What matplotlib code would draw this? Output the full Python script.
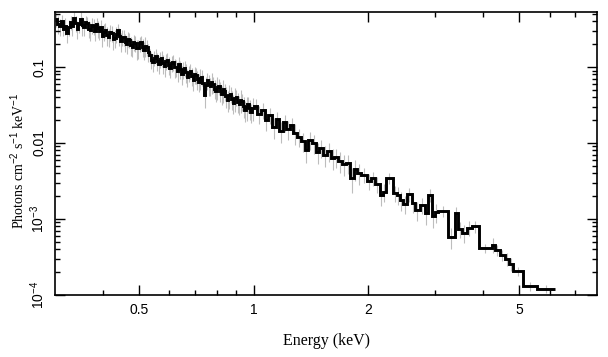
import matplotlib
matplotlib.use("Agg")
import matplotlib.pyplot as plt
import numpy as np
from matplotlib.ticker import FixedLocator, NullFormatter

# ---- data ----
energy_edges = [
    0.300, 0.3035, 0.307, 0.3105, 0.314, 0.3175, 0.321, 0.3245, 0.328, 0.3315,
    0.335, 0.3385, 0.342, 0.3455, 0.349, 0.3525, 0.356, 0.3595, 0.363, 0.3665,
    0.370, 0.3735, 0.377, 0.3805, 0.384, 0.3875, 0.391, 0.3945, 0.398, 0.4015,
    0.405, 0.409, 0.413, 0.417, 0.421, 0.425, 0.429, 0.433, 0.437, 0.441,
    0.445, 0.449, 0.453, 0.457, 0.461, 0.465, 0.469, 0.473, 0.477, 0.481,
    0.485, 0.4895, 0.494, 0.4985, 0.503, 0.5075, 0.512, 0.5165, 0.521, 0.5255,
    0.530, 0.535, 0.540, 0.545, 0.550, 0.555, 0.560, 0.565, 0.570, 0.575,
    0.580, 0.585, 0.590, 0.595, 0.600, 0.6055, 0.611, 0.6165, 0.622, 0.6275,
    0.633, 0.6385, 0.644, 0.6495, 0.655, 0.6605, 0.666, 0.672, 0.678, 0.684,
    0.690, 0.696, 0.702, 0.708, 0.714, 0.720, 0.726, 0.7325, 0.739, 0.7455,
    0.752, 0.7585, 0.765, 0.7715, 0.778, 0.785, 0.792, 0.799, 0.806, 0.813,
    0.820, 0.8275, 0.835, 0.8425, 0.850, 0.8575, 0.865, 0.8725, 0.880, 0.888,
    0.896, 0.904, 0.912, 0.920, 0.928, 0.9365, 0.945, 0.9535, 0.962, 0.971,
    0.980, 0.990, 1.000,
    1.022, 1.045, 1.068, 1.092, 1.116, 1.141, 1.166, 1.192, 1.218, 1.245,
    1.272, 1.300, 1.330, 1.360, 1.390, 1.422, 1.455, 1.488, 1.522, 1.557,
    1.593, 1.630, 1.668, 1.707, 1.747, 1.788, 1.830, 1.873, 1.917,
    1.981, 2.029, 2.079, 2.143, 2.183, 2.223, 2.319, 2.376, 2.419, 2.464,
    2.524, 2.602, 2.650, 2.732, 2.816, 2.868, 2.938, 2.992, 3.047, 3.237,
    3.378, 3.440, 3.524, 3.633, 3.745, 3.907,
    4.227, 4.305, 4.437, 4.574, 4.686, 4.801, 5.101, 5.554, 6.194,
]

photon_flux = [
    0.428, 0.372, 0.346, 0.398, 0.316, 0.352, 0.280, 0.335, 0.391, 0.342,
    0.441, 0.377, 0.316, 0.365, 0.428, 0.356, 0.336, 0.392, 0.379, 0.318,
    0.307, 0.358, 0.346, 0.301, 0.368, 0.322, 0.298, 0.341, 0.256, 0.293,
    0.307, 0.262, 0.248, 0.289, 0.280, 0.236, 0.241, 0.272, 0.307, 0.258,
    0.220, 0.251, 0.248, 0.213, 0.201, 0.236, 0.2265, 0.194, 0.1833, 0.212,
    0.207, 0.176, 0.178, 0.205, 0.213, 0.184, 0.1674, 0.192, 0.1833, 0.158,
    0.1438, 0.125, 0.1163, 0.132, 0.1395, 0.121, 0.1095, 0.127, 0.1314, 0.114,
    0.1031, 0.119, 0.1236, 0.106, 0.0970, 0.112, 0.1163, 0.101, 0.100, 0.089,
    0.1095, 0.094, 0.0809, 0.092, 0.0970, 0.085, 0.0739, 0.083, 0.0886, 0.077,
    0.0674, 0.080, 0.0785, 0.069, 0.0635, 0.072, 0.0739, 0.061, 0.0428, 0.058,
    0.0674, 0.060, 0.0562, 0.064, 0.0597, 0.052, 0.0483, 0.055, 0.0562, 0.049,
    0.0441, 0.051, 0.0483, 0.042, 0.0368, 0.043, 0.0441, 0.038, 0.0336, 0.039,
    0.0403, 0.035, 0.0326, 0.037, 0.0357, 0.031, 0.0272, 0.030, 0.0326, 0.0285,
    0.0256, 0.0292,
    0.0307, 0.0241, 0.0272, 0.0201, 0.0234, 0.01623, 0.0207, 0.01438, 0.0189, 0.01528,
    0.01725, 0.01354, 0.0120, 0.01062, 0.00809, 0.01095, 0.0100, 0.00762, 0.0086, 0.00695,
    0.00785, 0.00635, 0.00654, 0.0058, 0.0053, 0.00546, 0.00346, 0.00455, 0.00403,
    0.00379, 0.00316, 0.00346, 0.00289, 0.00207, 0.002266, 0.00346, 0.0022, 0.00207, 0.00178,
    0.001576, 0.00213, 0.001623, 0.001314, 0.001528, 0.0012, 0.00207, 0.001095, 0.001236, 0.001274,
    0.00058, 0.0012, 0.000739, 0.000654, 0.000761, 0.000809,
    0.000415, 0.000455, 0.000391, 0.000336, 0.000298, 0.000256, 0.000207, 0.000131, 0.00012,
]

flux_err_frac = [
    0.22, 0.26, 0.25, 0.21, 0.20, 0.24, 0.27, 0.23, 0.21, 0.25,
    0.19, 0.23, 0.26, 0.22, 0.22, 0.27, 0.24, 0.20, 0.20, 0.25,
    0.28, 0.23, 0.23, 0.27, 0.21, 0.25, 0.25, 0.22, 0.29, 0.24,
    0.22, 0.27, 0.26, 0.23, 0.24, 0.28, 0.27, 0.23, 0.21, 0.26,
    0.28, 0.24, 0.23, 0.27, 0.26, 0.22, 0.22, 0.27, 0.27, 0.24,
    0.24, 0.29, 0.28, 0.23, 0.22, 0.26, 0.26, 0.30, 0.23, 0.27,
    0.21, 0.25, 0.26, 0.22, 0.22, 0.27, 0.27, 0.24, 0.23, 0.28,
    0.28, 0.24, 0.22, 0.27, 0.26, 0.23, 0.24, 0.28, 0.25, 0.29,
    0.23, 0.27, 0.29, 0.25, 0.24, 0.28, 0.27, 0.23, 0.22, 0.27,
    0.28, 0.25, 0.23, 0.28, 0.27, 0.31, 0.24, 0.29, 0.33, 0.28,
    0.25, 0.30, 0.27, 0.32, 0.23, 0.28, 0.28, 0.33, 0.24, 0.30,
    0.29, 0.34, 0.25, 0.31, 0.30, 0.35, 0.23, 0.29, 0.29, 0.34,
    0.24, 0.30, 0.28, 0.33, 0.25, 0.31, 0.30, 0.35, 0.24, 0.30,
    0.29, 0.34,
    0.22, 0.27, 0.23, 0.28, 0.24, 0.30, 0.23, 0.31, 0.25, 0.28,
    0.24, 0.30, 0.27, 0.29, 0.33, 0.26, 0.28, 0.31, 0.27, 0.30,
    0.28, 0.31, 0.29, 0.30, 0.31, 0.29, 0.36, 0.30, 0.31,
    0.22, 0.24, 0.21, 0.25, 0.28, 0.26, 0.17, 0.25, 0.27, 0.28,
    0.26, 0.21, 0.27, 0.29, 0.24, 0.30, 0.20, 0.31, 0.28, 0.17,
    0.30, 0.20, 0.25, 0.27, 0.22, 0.18,
    0.14, 0.22, 0.16, 0.17, 0.20, 0.19, 0.14, 0.13, 0.12,
]

x_tick_values = [0.5, 1, 2, 5]
x_tick_labels = ["0.5", "1", "2", "5"]
y_tick_values = [1e-4, 1e-3, 1e-2, 1e-1]
y_tick_labels = [r"$10^{-4}$", r"$10^{-3}$", "0.01", "0.1"]

# ---- plot ----
plt.rcParams["font.family"] = ["Liberation Sans", "DejaVu Sans"]
plt.rcParams["mathtext.fontset"] = "custom"
plt.rcParams["mathtext.rm"] = "Liberation Sans"
plt.rcParams["mathtext.it"] = "Liberation Sans:italic"
plt.rcParams["mathtext.bf"] = "Liberation Sans:bold"

fig = plt.figure(figsize=(6.08, 3.57), dpi=100)
ax = fig.add_axes([0.0905, 0.1737, 0.8915, 0.7927])

edges = np.array(energy_edges)
flux = np.array(photon_flux)
frac = np.array(flux_err_frac)
centers = np.sqrt(edges[:-1] * edges[1:])

ax.vlines(centers, flux * (1 - frac), flux * (1 + frac), color="#bdbdbd",
          lw=0.8, zorder=1)
ax.stairs(flux, edges, color="black", lw=2.1, baseline=None, zorder=2)

ax.set_xscale("log")
ax.set_yscale("log")
ax.set_xlim(0.3, 8.0)
ax.set_ylim(1e-4, 0.53)

ax.xaxis.set_major_locator(FixedLocator(x_tick_values))
ax.set_xticklabels(x_tick_labels)
ax.xaxis.set_minor_locator(FixedLocator([0.4, 0.6, 0.7, 0.8, 0.9, 3, 4, 6, 7]))
ax.xaxis.set_minor_formatter(NullFormatter())

ax.yaxis.set_major_locator(FixedLocator(y_tick_values))
ax.set_yticklabels(y_tick_labels, rotation=90, va="center")
ymin = [m * 10.0 ** e for e in (-4, -3, -2, -1) for m in range(2, 10)]
ax.yaxis.set_minor_locator(FixedLocator([v for v in ymin if v <= 0.53]))
ax.yaxis.set_minor_formatter(NullFormatter())

ax.tick_params(which="both", direction="in", top=True, right=True,
               width=1.0, labelsize=10, colors="black")
ax.tick_params(which="major", length=7, pad=6)
ax.tick_params(which="minor", length=3.5)
for s in ax.spines.values():
    s.set_linewidth(1.2)

ax.set_xlabel("Energy (keV)", family=["Liberation Serif"], fontsize=11.5,
              labelpad=11)
ax.set_ylabel(r"Photons cm$^{-2}$ s$^{-1}$ keV$^{-1}$",
              family=["Liberation Serif"], fontsize=10)
ax.yaxis.set_label_coords(-0.051, 0.475)

fig.savefig("out.png", dpi=100)
